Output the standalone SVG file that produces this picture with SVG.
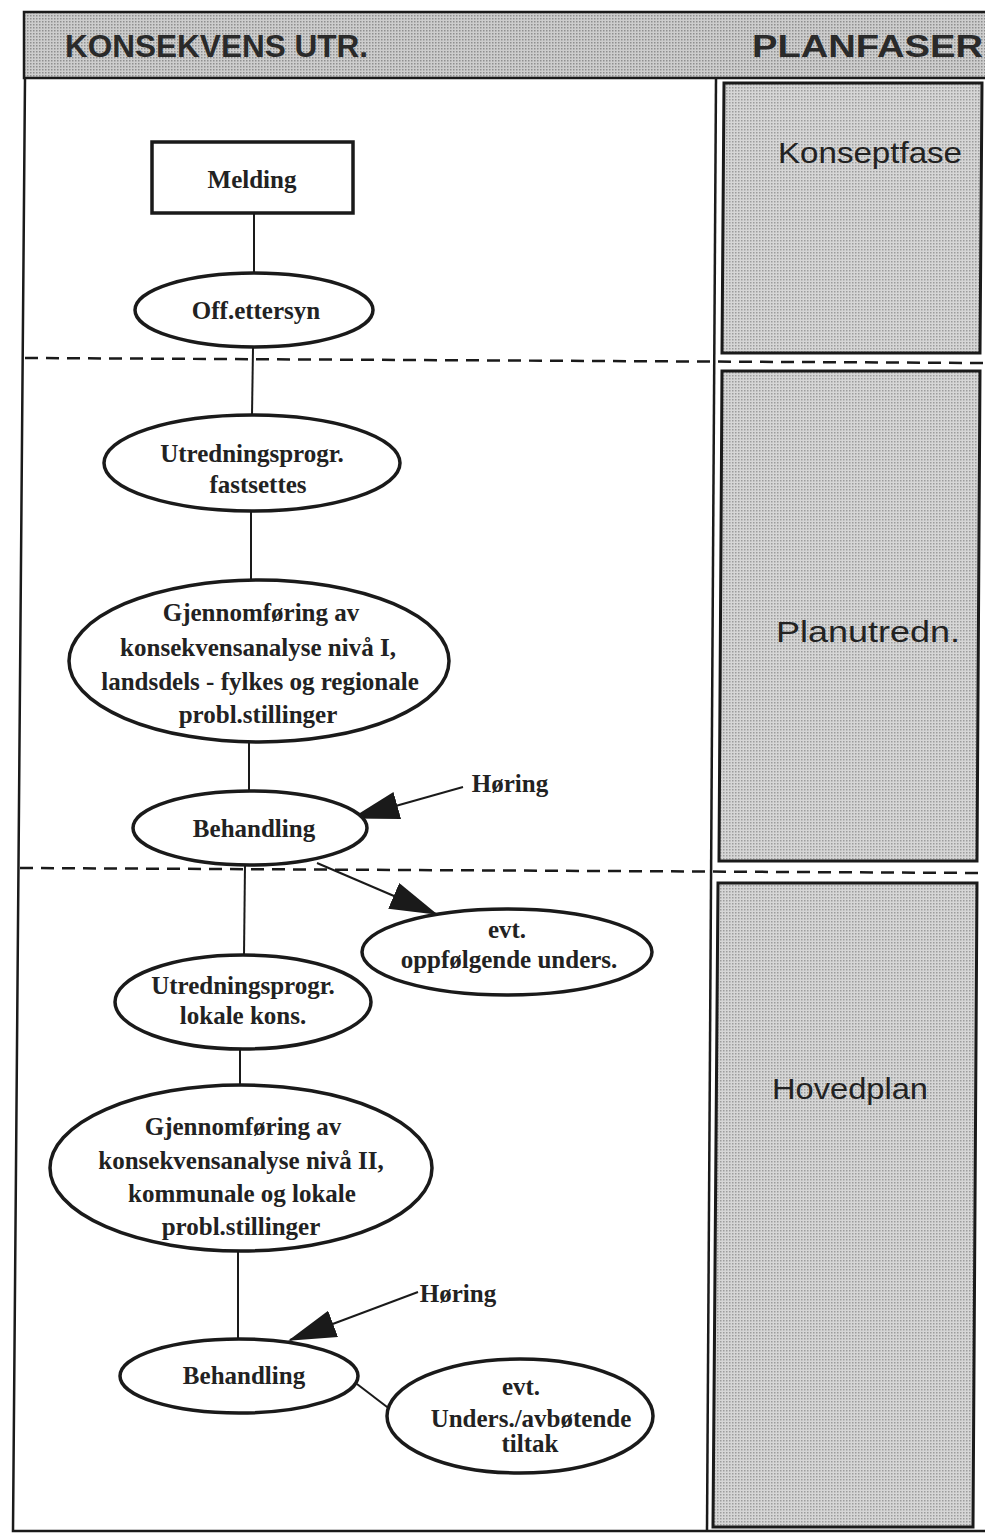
<svg xmlns="http://www.w3.org/2000/svg" width="985" height="1535" viewBox="0 0 985 1535">
<defs>
<pattern id="dots" width="3" height="3" patternUnits="userSpaceOnUse">
<rect width="3" height="3" fill="#cdcdcd"/>
<rect width="1.5" height="1.5" fill="#8f8f8f"/>
</pattern>
<pattern id="dots2" width="3" height="3" patternUnits="userSpaceOnUse">
<rect width="3" height="3" fill="#d6d6d6"/>
<rect width="1.5" height="1.5" fill="#9c9c9c"/>
</pattern>
<marker id="ah" markerUnits="userSpaceOnUse" markerWidth="48" markerHeight="28" refX="46" refY="14" orient="auto">
<path d="M0,0 L48,14 L0,28 Z" fill="#1a1a1a"/>
</marker>
</defs>
<style>
.node{fill:#fff;stroke:#1a1a1a;stroke-width:3.5}
.t{font-family:"Liberation Serif","Times New Roman",serif;font-weight:bold;font-size:25px;fill:#222;text-anchor:middle}
.h{font-family:"Liberation Sans",Arial,sans-serif;font-weight:bold;font-size:31px;fill:#2a2a2a}
.p{font-family:"Liberation Sans",Arial,sans-serif;font-size:30px;fill:#222}
.frame{fill:none;stroke:#1a1a1a;stroke-width:2.5}
.panel{fill:url(#dots2);stroke:#1a1a1a;stroke-width:3}
.dash{stroke:#1a1a1a;stroke-width:2.5;stroke-dasharray:13 8;fill:none}
.c{stroke:#1a1a1a;stroke-width:2;fill:none}
</style>
<rect width="985" height="1535" fill="#fff"/>
<g id="header">
<rect x="24" y="12" width="964" height="66" fill="url(#dots)" stroke="#1a1a1a" stroke-width="2.5"/>
<text class="h" x="65" y="57" textLength="303" lengthAdjust="spacingAndGlyphs">KONSEKVENS UTR.</text>
<text class="h" x="752" y="57" textLength="231" lengthAdjust="spacingAndGlyphs">PLANFASER</text>
</g>
<g id="frame">
<path class="frame" d="M25,78 L13,1531 L985,1531"/>
<path class="frame" d="M716,78 L707,1531"/>
<path class="dash" d="M25,358 L985,363"/>
<path class="dash" d="M20,868 L985,873"/>
</g>
<g id="phase-konseptfase">
<path class="panel" d="M724,83 L982,83 L980,353 L722,353 Z"/>
<text class="p" x="778" y="163" textLength="184" lengthAdjust="spacingAndGlyphs">Konseptfase</text>
</g>
<g id="phase-planutredn">
<path class="panel" d="M722,371 L980,371 L977,861 L719,861 Z"/>
<text class="p" x="776" y="642" textLength="184" lengthAdjust="spacingAndGlyphs">Planutredn.</text>
</g>
<g id="phase-hovedplan">
<path class="panel" d="M718,883 L977,883 L973,1527 L713,1527 Z"/>
<text class="p" x="772" y="1099" textLength="156" lengthAdjust="spacingAndGlyphs">Hovedplan</text>
</g>
<g id="connectors">
<line class="c" x1="254" y1="213" x2="254" y2="273"/>
<line class="c" x1="253" y1="348" x2="252" y2="415"/>
<line class="c" x1="251" y1="512" x2="251" y2="580"/>
<line class="c" x1="249" y1="742" x2="249" y2="792"/>
<line class="c" x1="245" y1="865" x2="244" y2="955"/>
<line class="c" x1="240" y1="1049" x2="240" y2="1086"/>
<line class="c" x1="238" y1="1251" x2="238" y2="1340"/>
<line class="c" x1="463" y1="787" x2="353" y2="818" marker-end="url(#ah)"/>
<line class="c" x1="317" y1="863" x2="436" y2="914" marker-end="url(#ah)"/>
<line class="c" x1="418" y1="1292" x2="290" y2="1340" marker-end="url(#ah)"/>
<line class="c" x1="357" y1="1384" x2="391" y2="1410"/>
</g>
<g id="melding">
<rect class="node" x="152" y="142" width="201" height="71"/>
<text class="t" x="252" y="188">Melding</text>
</g>
<g id="off-ettersyn">
<ellipse class="node" cx="254" cy="310" rx="119" ry="37"/>
<text class="t" x="256" y="319">Off.ettersyn</text>
</g>
<g id="utredningsprogr-fastsettes">
<ellipse class="node" cx="252" cy="463" rx="148" ry="48"/>
<text class="t" x="252" y="462">Utredningsprogr.</text>
<text class="t" x="258" y="493">fastsettes</text>
</g>
<g id="gjennomforing-1">
<ellipse class="node" cx="259" cy="661" rx="190" ry="81"/>
<text class="t" x="261" y="621">Gjennomføring av</text>
<text class="t" x="258" y="656">konsekvensanalyse nivå I,</text>
<text class="t" x="260" y="690">landsdels - fylkes og regionale</text>
<text class="t" x="258" y="723">probl.stillinger</text>
</g>
<g id="behandling-1">
<ellipse class="node" cx="250" cy="828" rx="117" ry="37"/>
<text class="t" x="254" y="837">Behandling</text>
</g>
<g id="horing-1">
<text class="t" x="510" y="792">Høring</text>
</g>
<g id="evt-oppfolgende">
<ellipse class="node" cx="507" cy="952" rx="145" ry="43"/>
<text class="t" x="507" y="938">evt.</text>
<text class="t" x="509" y="968">oppfølgende unders.</text>
</g>
<g id="utredningsprogr-lokale">
<ellipse class="node" cx="243" cy="1002" rx="128" ry="47"/>
<text class="t" x="243" y="994">Utredningsprogr.</text>
<text class="t" x="243" y="1024">lokale kons.</text>
</g>
<g id="gjennomforing-2">
<ellipse class="node" cx="241" cy="1168" rx="191" ry="83"/>
<text class="t" x="243" y="1135">Gjennomføring av</text>
<text class="t" x="241" y="1169">konsekvensanalyse nivå II,</text>
<text class="t" x="242" y="1202">kommunale og lokale</text>
<text class="t" x="241" y="1235">probl.stillinger</text>
</g>
<g id="horing-2">
<text class="t" x="458" y="1302">Høring</text>
</g>
<g id="behandling-2">
<ellipse class="node" cx="239" cy="1376" rx="119" ry="37"/>
<text class="t" x="244" y="1384">Behandling</text>
</g>
<g id="evt-unders">
<ellipse class="node" cx="520" cy="1416" rx="133" ry="57"/>
<text class="t" x="521" y="1395">evt.</text>
<text class="t" x="531" y="1427">Unders./avbøtende</text>
<text class="t" x="530" y="1452">tiltak</text>
</g>
</svg>
